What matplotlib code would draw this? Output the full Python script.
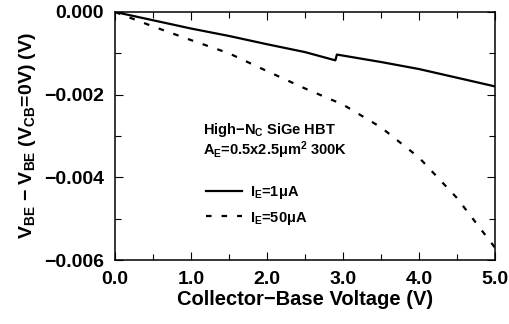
import matplotlib
matplotlib.use('Agg')
import matplotlib.pyplot as plt
import numpy as np
from matplotlib.ticker import MultipleLocator, FuncFormatter

plt.rcParams['font.family'] = ['Liberation Sans', 'DejaVu Sans']
plt.rcParams['mathtext.default'] = 'regular'

# I_E = 1 uA (solid), small step near 2.9 V
vcb_1 = [0.0, 0.5, 1.0, 1.5, 2.0, 2.5, 2.9, 2.92, 3.5, 4.0, 4.5, 5.0]
dvbe_1 = [0.0, -0.00020, -0.00040, -0.00058, -0.00078, -0.00097, -0.00117,
          -0.00103, -0.00121, -0.00138, -0.00159, -0.00180]

# I_E = 50 uA (dashed)
vcb_50 = [0.0, 0.5, 1.0, 1.5, 2.0, 2.5, 3.0, 3.5, 4.0, 4.5, 5.0]
dvbe_50 = [0.0, -0.00035, -0.00068, -0.00100, -0.00143, -0.00185, -0.00224,
           -0.00279, -0.00352, -0.00450, -0.00570]

fig = plt.figure(figsize=(5.1, 3.24), dpi=100)
ax = fig.add_axes([0.2255, 0.1975, 0.745, 0.7655])

ax.plot(vcb_1, dvbe_1, color='black', lw=1.6, label='I$_E$=1$\\mu$A')
ax.plot(vcb_50, dvbe_50, color='black', lw=1.6, dashes=[2.5, 4.5],
        label='I$_E$=50$\\mu$A')

ax.set_xlim(0, 5)
ax.set_ylim(-0.006, 0)
ax.xaxis.set_major_locator(MultipleLocator(1))
ax.xaxis.set_minor_locator(MultipleLocator(0.5))
ax.yaxis.set_major_locator(MultipleLocator(0.002))
ax.yaxis.set_minor_locator(MultipleLocator(0.001))
ax.xaxis.set_major_formatter(FuncFormatter(lambda v, p: f'{v:.1f}'))
ax.yaxis.set_major_formatter(
    FuncFormatter(lambda v, p: f'{v:.3f}'.replace('-', '\u2212')))

ax.tick_params(which='both', direction='in', top=True, right=True, width=0.8)
ax.tick_params(which='major', length=6, labelsize=14)
ax.tick_params(axis='x', which='major', pad=8)
ax.tick_params(axis='y', which='major', pad=8)
ax.tick_params(which='minor', length=4)
for lab in ax.get_xticklabels() + ax.get_yticklabels():
    lab.set_fontweight('bold')
for s in ax.spines.values():
    s.set_linewidth(1.1)

ax.set_xlabel('Collector\u2212Base Voltage (V)', fontsize=14.5, fontweight='bold',
              labelpad=1)
ax.set_ylabel('V$_{BE}$ \u2212 V$_{BE}$ (V$_{CB}$=0V) (V)', fontsize=14,
              fontweight='bold', labelpad=4)

ax.text(0.231, 0.524, 'High\u2212N$_C$ SiGe HBT', transform=ax.transAxes,
        fontsize=10.5, fontweight='bold', va='center')
ax.text(0.231, 0.444, 'A$_E$=0.5x2.5$\\mu$m$^2$ 300K', transform=ax.transAxes,
        fontsize=10.5, fontweight='bold', va='center')

leg = ax.legend(loc='upper left', bbox_to_anchor=(0.205, 0.36), frameon=False,
                handlelength=2.5, handletextpad=0.5, labelspacing=0.6,
                prop={'size': 10.5, 'weight': 'bold'})

fig.savefig('out.png', dpi=100)
